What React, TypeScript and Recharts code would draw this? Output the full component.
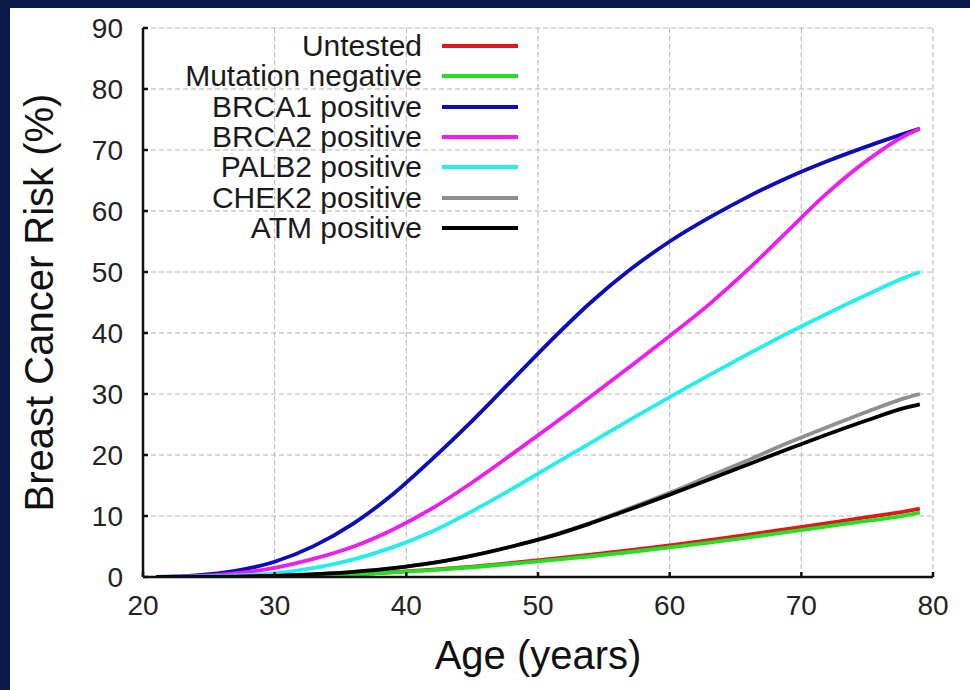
import React from "react";
import { LineChart, Line, XAxis, YAxis, CartesianGrid, Legend } from "recharts";

const ages = [21, 24, 27, 30, 33, 36, 39, 42, 45, 48, 51, 54, 57, 60, 63, 66, 69, 72, 75, 78, 79];

const untested = [0, 0, 0.03, 0.1, 0.25, 0.45, 0.8, 1.2, 1.7, 2.3, 2.95, 3.65, 4.4, 5.2, 6.05, 6.95, 7.9, 8.85, 9.8, 10.8, 11.2];
const mutationNegative = [0, 0, 0.03, 0.1, 0.24, 0.43, 0.75, 1.12, 1.6, 2.15, 2.75, 3.4, 4.1, 4.85, 5.65, 6.5, 7.4, 8.3, 9.2, 10.15, 10.6];
const brca1 = [0, 0.25, 1.0, 2.5, 5.1, 8.8, 13.6, 19.4, 25.6, 32.2, 38.8, 45.0, 50.4, 55.0, 58.9, 62.4, 65.5, 68.2, 70.6, 72.8, 73.5];
const brca2 = [0, 0.15, 0.6, 1.5, 3.0, 5.0, 7.8, 11.3, 15.5, 20.1, 24.8, 29.6, 34.5, 39.5, 44.7, 50.5, 56.8, 63.0, 68.3, 72.5, 73.5];
const palb2 = [0, 0.05, 0.25, 0.6, 1.5, 2.9, 4.9, 7.5, 10.8, 14.4, 18.2, 22.0, 25.8, 29.5, 33.1, 36.6, 40.0, 43.2, 46.3, 49.2, 50.0];
const chek2 = [0, 0, 0.05, 0.2, 0.45, 0.85, 1.45, 2.3, 3.5, 5.0, 6.8, 8.9, 11.3, 13.8, 16.5, 19.2, 22.0, 24.6, 27.1, 29.4, 30.0];
const atm = [0, 0, 0.05, 0.2, 0.45, 0.85, 1.45, 2.3, 3.5, 5.0, 6.7, 8.8, 11.1, 13.5, 16.0, 18.5, 21.0, 23.4, 25.7, 27.8, 28.3];

const xTicks = [20, 30, 40, 50, 60, 70, 80];
const yTicks = [0, 10, 20, 30, 40, 50, 60, 70, 80, 90];

const seriesNames = ["Untested", "Mutation negative", "BRCA1 positive", "BRCA2 positive", "PALB2 positive", "CHEK2 positive", "ATM positive"];
const seriesKeys = ["untested", "negative", "brca1", "brca2", "palb2", "chek2", "atm"];
const seriesColors = ["#e01818", "#22e022", "#0c0cb8", "#ee1cee", "#22eeee", "#8e8e8e", "#000000"];
const seriesValues = [untested, mutationNegative, brca1, brca2, palb2, chek2, atm];

const data = ages.map((age, i) => {
  const row: Record<string, number> = { age };
  seriesKeys.forEach((k, j) => {
    row[k] = seriesValues[j][i];
  });
  return row;
});

const FONT = '"Liberation Sans", Arial, Helvetica, sans-serif';

const LegendContent = () => (
  <div style={{ fontFamily: FONT }}>
    {seriesNames.map((name, i) => (
      <div
        key={name}
        style={{
          display: "flex",
          justifyContent: "flex-end",
          alignItems: "center",
          height: 30.3,
        }}
      >
        <span style={{ fontSize: 30, color: "#1a1a1a", lineHeight: "30px", whiteSpace: "nowrap" }}>{name}</span>
        <span
          style={{
            display: "inline-block",
            width: 76,
            height: 4,
            marginLeft: 20,
            background: seriesColors[i],
          }}
        />
      </div>
    ))}
  </div>
);

export default function App() {
  return (
    <div
      style={{
        position: "absolute",
        left: 0,
        top: 0,
        width: 970,
        height: 690,
        background: "#0b1a48",
        overflow: "hidden",
      }}
    >
      <div
        style={{
          position: "absolute",
          left: 10,
          top: 8,
          width: 960,
          height: 682,
          background: "#ffffff",
        }}
      />
      <div style={{ position: "absolute", left: 0, top: 0 }}>
        <LineChart
          width={970}
          height={690}
          data={data}
          margin={{ top: 28, right: 37, bottom: 0, left: 0 }}
        >
          <CartesianGrid stroke="#b4b4b4" strokeDasharray="5 3" strokeWidth={1} />
          <XAxis
            dataKey="age"
            type="number"
            domain={[20, 80]}
            ticks={xTicks}
            interval={0}
            allowDataOverflow
            stroke="#111"
            strokeWidth={2.5}
            tickSize={-5}
            tickMargin={23}
            tick={{ fill: "#222", fontSize: 28, fontFamily: FONT }}
            height={113}
            label={{
              value: "Age (years)",
              position: "insideBottom",
              offset: 21,
              fill: "#111",
              fontSize: 40,
              fontFamily: FONT,
            }}
          />
          <YAxis
            type="number"
            domain={[0, 90]}
            ticks={yTicks}
            interval={0}
            allowDataOverflow
            stroke="#111"
            strokeWidth={2.5}
            tickSize={-5}
            tickMargin={25}
            width={143}
            tick={{ fill: "#222", fontSize: 28, fontFamily: FONT }}
            label={{
              value: "Breast Cancer Risk (%)",
              angle: -90,
              position: "insideLeft",
              offset: 39,
              fill: "#111",
              fontSize: 40,
              fontFamily: FONT,
              style: { textAnchor: "middle" },
            }}
          />
          <Legend
            layout="horizontal"
            verticalAlign="middle"
            align="center"
            content={<LegendContent />}
            wrapperStyle={{ position: "absolute", left: 100, top: 31, width: 418 }}
          />
          {seriesKeys.map((k, i) => (
            <Line
              key={k}
              type="monotone"
              dataKey={k}
              name={seriesNames[i]}
              stroke={seriesColors[i]}
              strokeWidth={3.8}
              dot={false}
              activeDot={false}
              isAnimationActive={false}
            />
          ))}
        </LineChart>
      </div>
    </div>
  );
}
